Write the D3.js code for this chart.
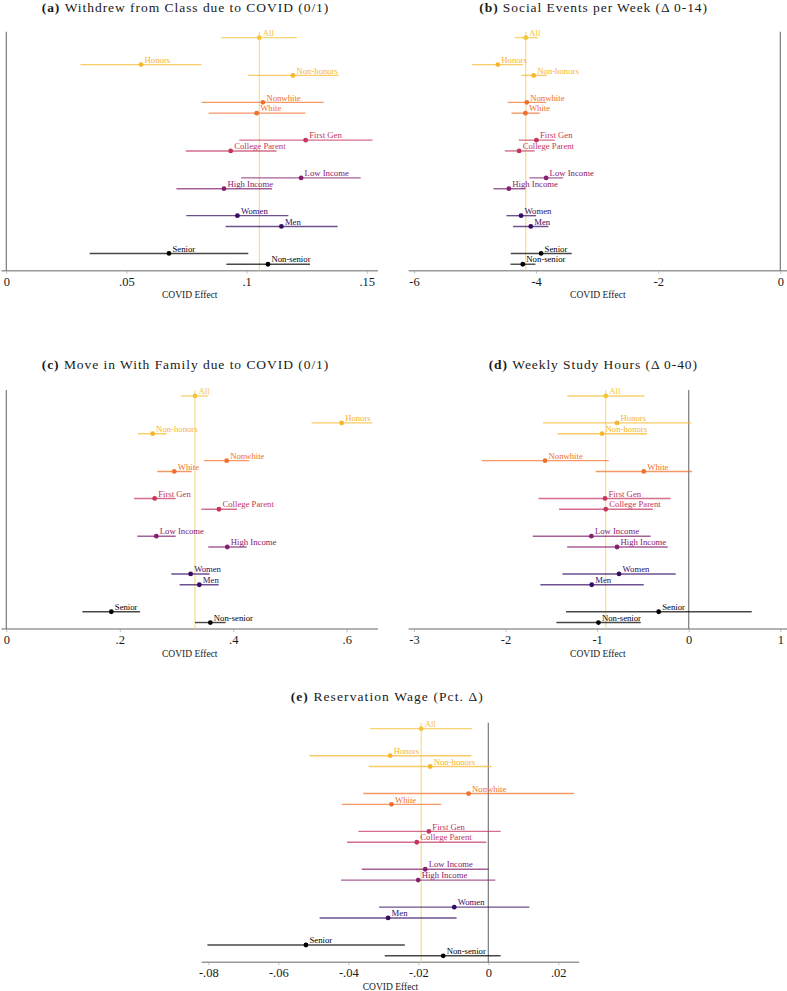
<!DOCTYPE html>
<html><head><meta charset="utf-8">
<script src="https://cdn.jsdelivr.net/npm/d3@7"></script>
<style>body{margin:0;background:#fff} svg{display:block} text{font-family:"Liberation Serif","DejaVu Serif",serif;}</style>
</head><body><svg id="chart" width="787" height="991"></svg>
<script>
// ---------- DATA ----------
const groups = [["All"],["Honors","Non-honors"],["Nonwhite","White"],["First Gen","College Parent"],["Low Income","High Income"],["Women","Men"],["Senior","Non-senior"]];
const groupColors = ["#F5C43A","#F7B52B","#F1702C","#C4365D","#84216F","#360C62","#000000"];

const titlePrefixes = ["(a)","(b)","(c)","(d)","(e)"];
const titleTexts = ["Withdrew from Class due to COVID (0/1)","Social Events per Week (\u0394 0-14)","Move in With Family due to COVID (0/1)","Weekly Study Hours (\u0394 0-40)","Reservation Wage (Pct. \u0394)"];
const axisTitle = "COVID Effect";

// (a) Withdrew from class
const aEst = [0.1053,0.0561,0.1193,0.1068,0.1042,0.1246,0.0934,0.1227,0.0906,0.0962,0.1145,0.0677,0.1089];
const aLo  = [0.0894,0.0309,0.1007,0.0812,0.0842,0.0970,0.0747,0.0977,0.0708,0.0749,0.0913,0.0347,0.0916];
const aHi  = [0.1209,0.0812,0.1383,0.1321,0.1245,0.1524,0.1125,0.1475,0.1106,0.1174,0.1379,0.1007,0.1264];
const aTicks = [0,0.05,0.1,0.15];
const aTickLabels = ["0",".05",".1",".15"];

// (b) Social events per week
const bEst = [-4.169,-4.627,-4.038,-4.153,-4.175,-3.995,-4.278,-3.836,-4.447,-4.246,-4.087,-3.918,-4.218];
const bLo  = [-4.349,-5.048,-4.240,-4.464,-4.404,-4.284,-4.513,-4.109,-4.698,-4.486,-4.377,-4.415,-4.420];
const bHi  = [-3.973,-4.213,-3.825,-3.836,-3.940,-3.694,-4.022,-3.558,-4.175,-4.000,-3.798,-3.416,-4.011];
const bTicks = [-6,-4,-2,0];
const bTickLabels = ["-6","-4","-2","0"];

// (c) Move in with family
const cEst = [0.3326,0.5911,0.2579,0.3884,0.2961,0.2615,0.3748,0.2644,0.3895,0.3249,0.3402,0.1851,0.3596];
const cLo  = [0.3079,0.5382,0.2321,0.3484,0.2662,0.2250,0.3437,0.2309,0.3560,0.2908,0.3055,0.1340,0.3326];
const cHi  = [0.3560,0.6451,0.2826,0.4283,0.3267,0.2985,0.4066,0.2985,0.4236,0.3584,0.3743,0.2356,0.3866];
const cTicks = [0,0.2,0.4,0.6];
const cTickLabels = ["0",".2",".4",".6"];

// (d) Weekly study hours
const dEst = [-0.906,-0.783,-0.946,-1.569,-0.491,-0.914,-0.906,-1.063,-0.783,-0.761,-1.059,-0.328,-0.986];
const dLo  = [-1.328,-1.591,-1.430,-2.257,-1.015,-1.641,-1.416,-1.703,-1.328,-1.379,-1.620,-1.339,-1.445];
const dHi  = [-0.484,0.029,-0.455,-0.874,0.036,-0.197,-0.393,-0.415,-0.229,-0.142,-0.491,0.688,-0.524];
const dTicks = [-3,-2,-1,0,1];
const dTickLabels = ["-3","-2","-1","0","1"];

// (e) Reservation wage
const eEst = [-0.01918,-0.02805,-0.01660,-0.00563,-0.02767,-0.01698,-0.02042,-0.01803,-0.02004,-0.00973,-0.02863,-0.05210,-0.01288];
const eLo  = [-0.03378,-0.05115,-0.03416,-0.03569,-0.04189,-0.03712,-0.04036,-0.03616,-0.04208,-0.03120,-0.04819,-0.08025,-0.02958];
const eHi  = [-0.00458,-0.00487,0.00095,0.02452,-0.01345,0.00353,-0.00057,0.0001,0.0020,0.01174,-0.00906,-0.02385,0.00353];
const eTicks = [-0.08,-0.06,-0.04,-0.02,0,0.02];
const eTickLabels = ["-.08","-.06","-.04","-.02","0",".02"];

// ---------- LAYOUT ----------
const rows = [];
{
  let pos = 0;
  groups.forEach((g, gi) => {
    g.forEach((name) => { rows.push({name, group: gi, pos}); pos += 1; });
    pos += 1.5;
  });
}

const panels = [
  {est:aEst, lo:aLo, hi:aHi, ticks:aTicks, tl:aTickLabels, x0:6.3, x1:366.7, ax0:1.5, ax1:378, top:31.7, base:270.7, titleX:[41.7,328.3], titleY:11.5},
  {est:bEst, lo:bLo, hi:bHi, ticks:bTicks, tl:bTickLabels, x0:414, x1:780.3, ax0:408.7, ax1:787, top:31.7, base:270.7, titleX:[479.3,707], titleY:11.5},
  {est:cEst, lo:cLo, hi:cHi, ticks:cTicks, tl:cTickLabels, x0:6.3, x1:346.7, ax0:1.5, ax1:378, top:390, base:629, titleX:[41.7,328.3], titleY:368.5},
  {est:dEst, lo:dLo, hi:dHi, ticks:dTicks, tl:dTickLabels, x0:414, x1:780.3, ax0:408.7, ax1:787, top:390, base:629, titleX:[488.7,697], titleY:368.5},
  {est:eEst, lo:eLo, hi:eHi, ticks:eTicks, tl:eTickLabels, x0:208.3, x1:558.3, ax0:201.7, ax1:579.3, top:722.7, base:962.3, titleX:[290.7,482.7], titleY:701}
];

const svg = d3.select("#chart");
const serif = "Liberation Serif";

panels.forEach((p, pi) => {
  const tk = p.ticks;
  const x = d3.scaleLinear().domain([tk[0], tk[tk.length-1]]).range([p.x0, p.x1]);
  const y = d3.scaleLinear().domain([-0.55, 21.6]).range([p.top, p.base]);
  const g = svg.append("g");

  // title
  const t = g.append("text")
    .attr("x", p.titleX[0]).attr("y", p.titleY)
    .attr("textLength", p.titleX[1]-p.titleX[0]).attr("lengthAdjust","spacing")
    .attr("font-family", serif).attr("font-size", 13.5).attr("fill","#1a1a1a");
  t.append("tspan").attr("font-weight","bold").text(titlePrefixes[pi] + " ");
  t.append("tspan").text(titleTexts[pi]);

  // x axis
  const axis = d3.axisBottom(x).tickValues(tk).tickFormat((d,i)=>p.tl[i]).tickSize(3).tickPadding(3);
  const ag = g.append("g").attr("transform",`translate(0,${p.base})`).call(axis);
  ag.attr("font-family", serif).attr("font-size", 12.5);
  ag.select(".domain").remove();
  ag.selectAll(".tick line").attr("stroke","#b0b0b0").attr("stroke-width",0.8);
  ag.selectAll(".tick text").attr("fill","#1a1a1a");
  g.append("line").attr("x1",p.ax0).attr("x2",p.ax1).attr("y1",p.base).attr("y2",p.base)
    .attr("stroke","#9a9a9a").attr("stroke-width",1.4);
  g.append("text").attr("x",(p.ax0+p.ax1)/2).attr("y",p.base+27.5).attr("text-anchor","middle")
    .attr("font-family", serif).attr("font-size", 9.5).attr("fill","#1a1a1a").text(axisTitle);

  // reference line at "All" estimate
  g.append("line").attr("x1",x(p.est[0])).attr("x2",x(p.est[0])).attr("y1",p.top).attr("y2",p.base)
    .attr("stroke","#F6D773").attr("stroke-width",1);
  // zero line
  g.append("line").attr("x1",x(0)).attr("x2",x(0)).attr("y1",p.top).attr("y2",p.base)
    .attr("stroke","#6e6e6e").attr("stroke-width",1.1);

  // CIs
  g.selectAll(".ci").data(rows).join("line")
    .attr("x1",(d,i)=>x(p.lo[i])).attr("x2",(d,i)=>x(p.hi[i]))
    .attr("y1",d=>y(d.pos)).attr("y2",d=>y(d.pos))
    .attr("stroke",d=>groupColors[d.group]).attr("stroke-opacity",0.72).attr("stroke-width",1.4);
  // points
  g.selectAll(".pt").data(rows).join("circle")
    .attr("cx",(d,i)=>x(p.est[i])).attr("cy",d=>y(d.pos)).attr("r",2.4)
    .attr("fill",d=>groupColors[d.group]);
  // labels
  g.selectAll(".lb").data(rows).join("text")
    .attr("x",(d,i)=>x(p.est[i])+3.5).attr("y",d=>y(d.pos)-1.8)
    .attr("font-family", serif).attr("font-size", 8.7)
    .attr("fill",d=>groupColors[d.group])
    .text(d=>d.name);
});
</script></body></html>
